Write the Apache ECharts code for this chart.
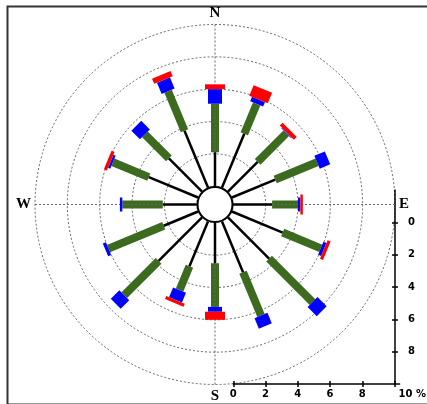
<!DOCTYPE html>
<html>
<head>
<meta charset="utf-8">
<script src="https://cdn.jsdelivr.net/npm/echarts@6/dist/echarts.min.js"></script>
<style>html,body{margin:0;padding:0;background:#fff}#c{width:427px;height:404px}</style>
</head>
<body>
<div id="c"></div>
<script>
// 16 wind directions, clockwise from north
const directions = ['N','NNE','NE','ENE','E','ESE','SE','SSE','S','SSW','SW','WSW','W','WNW','NW','NNW'];
// frequency (%) per speed class, per direction
const class1 = [2.1,3.6,2.6,2.9,2.4,3.4,3.6,3.4,2.5,3.0,3.8,2.3,2.1,3.3,2.9,3.8];
const class2 = [3.0,2.0,2.5,2.8,1.6,2.55,3.8,2.9,2.7,1.6,3.0,3.7,2.5,2.4,2.1,2.65];
const class3 = [0.9,0.3,0.05,0.7,0.15,0.2,0.8,0.7,0.3,0.65,0.75,0.2,0.15,0.15,0.75,0.75];
const class4 = [0.3,0.7,0.25,0,0.15,0.2,0,0,0.5,0.2,0,0,0,0.2,0,0.35];
const scaleTicks = [0,2,4,6,8,10];
const scaleLabels = [0,2,4,6,8];
const compassLabels = {0:'N',90:'E',180:'S',270:'W'};

const classes = [class1,class2,class3,class4];
const classColors = ['#000000','#3c6a1e','#0000ff','#ff0000'];
const classWidths = [2.5,8,14,20];

function buildData(k){
  return directions.map((d,i)=>{
    let s=0;
    for(let j=0;j<k;j++) s+=classes[j][i];
    return [i*360/directions.length, s, s+classes[k][i]];
  });
}

function makeRender(k){
  return function(params, api){
    const ang = api.value(0), r0 = api.value(1), r1 = api.value(2);
    if(!(r1 > r0)) return null;
    const p0 = api.coord([r0, ang]);
    const p1 = api.coord([r1, ang]);
    const dx = p1[0]-p0[0], dy = p1[1]-p0[1];
    const L = Math.sqrt(dx*dx+dy*dy) || 1;
    const nx = -dy/L*classWidths[k]/2, ny = dx/L*classWidths[k]/2;
    return {
      type:'polygon',
      shape:{points:[[p0[0]+nx,p0[1]+ny],[p1[0]+nx,p1[1]+ny],[p1[0]-nx,p1[1]-ny],[p0[0]-nx,p0[1]-ny]]},
      style:{fill:classColors[k]}
    };
  };
}

const chart = echarts.init(document.getElementById('c'));
const dash = {color:'#666',width:1,type:[2,2]};
const lab = {fontFamily:'DejaVu Sans',fontWeight:'bold',fontSize:10,color:'#000'};
const option = {
  animation:false,
  backgroundColor:'#fff',
  polar:[
    {center:[215,204.5], radius:[18.3,180]},
    {center:[215,204.5], radius:[0,17.5]}
  ],
  angleAxis:[
    {polarIndex:0,type:'value',min:0,max:360,interval:90,startAngle:90,clockwise:true,z:1,
     axisLine:{show:false},axisTick:{show:false},
     splitLine:{show:true,lineStyle:dash},
     axisLabel:{show:true,margin:4,formatter:v=>compassLabels[v]!==undefined && v!==360 ? compassLabels[v] : '',
       fontFamily:'Liberation Serif',fontWeight:'bold',fontSize:15,color:'#000'}},
    {polarIndex:1,type:'value',min:0,max:360,startAngle:90,z:5,
     axisLine:{show:true,lineStyle:{color:'#000',width:2}},axisTick:{show:false},axisLabel:{show:false},splitLine:{show:false}}
  ],
  radiusAxis:[
    {polarIndex:0,type:'value',min:0,max:10,interval:2,axisLine:{show:false},axisTick:{show:false},axisLabel:{show:false},
     splitLine:{show:true,lineStyle:dash}},
    {polarIndex:1,type:'value',min:0,max:1,show:false}
  ],
  grid:[
    {left:233.3,top:190,width:166.7,height:194,containLabel:false},
    {left:233.3,top:190,width:161.7,height:194,containLabel:false}
  ],
  xAxis:[
    {gridIndex:0,type:'value',min:0,max:10.31,position:'bottom',
     axisLine:{show:true,onZero:false,lineStyle:{color:'#000',width:1.5}},
     axisTick:{show:true,inside:false,length:3,customValues:scaleTicks,lineStyle:{color:'#000',width:1.5}},
     axisLabel:Object.assign({show:true,customValues:scaleLabels,margin:5},lab),
     splitLine:{show:false},
     name:'10 %',nameLocation:'end',nameGap:-1,
     nameTextStyle:Object.assign({verticalAlign:'top',padding:[5,0,0,0]},lab)},
    {gridIndex:0,type:'value',min:0,max:10.31,position:'bottom',
     axisLine:{show:false,onZero:false},
     axisTick:{show:true,inside:true,length:3,customValues:scaleTicks,lineStyle:{color:'#000',width:1.5}},
     axisLabel:{show:false},splitLine:{show:false}},
    {gridIndex:1,type:'value',show:false,min:0,max:10,axisLine:{onZero:false}}
  ],
  yAxis:[
    {gridIndex:0,type:'value',show:false,min:-2,max:10,axisLine:{onZero:false}},
    {gridIndex:1,type:'value',min:-2,max:10,inverse:true,position:'right',
     axisLine:{show:true,onZero:false,lineStyle:{color:'#000',width:1.5}},
     axisTick:{show:true,inside:false,length:3,customValues:[0,2,4,6,8],lineStyle:{color:'#000',width:1.5}},
     axisLabel:Object.assign({show:true,customValues:scaleLabels,margin:13},lab),
     splitLine:{show:false}},
    {gridIndex:1,type:'value',min:-2,max:10,inverse:true,position:'right',
     axisLine:{show:false,onZero:false},
     axisTick:{show:true,inside:true,length:3,customValues:[0,2,4,6,8],lineStyle:{color:'#000',width:1.5}},
     axisLabel:{show:false},splitLine:{show:false}}
  ],
  graphic:[
    {type:'rect',left:5,top:4,shape:{width:440,height:398},style:{fill:'none',stroke:'#333',lineWidth:2},silent:true}
  ],
  series:[0,1,2,3].map(k=>({
    type:'custom',coordinateSystem:'polar',polarIndex:0,
    name:'class'+(k+1),
    z: k===1 ? 0.5 : 2,
    encode:{angle:0,radius:[1,2]},
    renderItem:makeRender(k),
    data:buildData(k)
  }))
};
chart.setOption(option);
</script>
</body>
</html>
